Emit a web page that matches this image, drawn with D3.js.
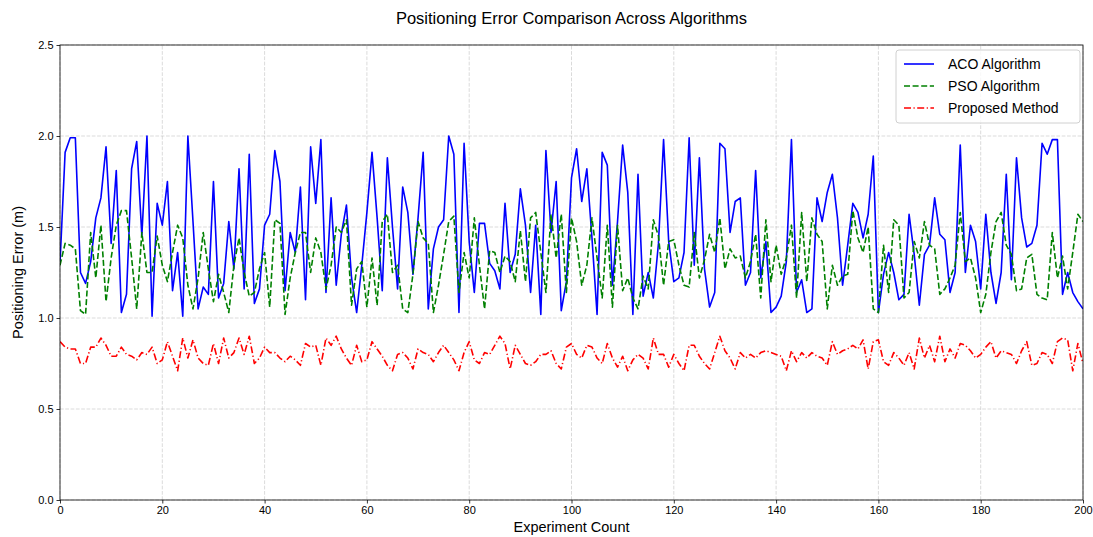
<!DOCTYPE html>
<html><head><meta charset="utf-8">
<script src="https://cdn.jsdelivr.net/npm/d3@7"></script>
<style>body{margin:0;background:#fff;font-family:"Liberation Sans",Arial,sans-serif;}</style>
</head><body>
<svg id="chart" width="1093" height="537"></svg>
<script>
const title = "Positioning Error Comparison Across Algorithms";
const xLabel = "Experiment Count";
const yLabel = "Positioning Error (m)";
const seriesNames = ["ACO Algorithm", "PSO Algorithm", "Proposed Method"];
const xTicks = [0,20,40,60,80,100,120,140,160,180,200];
const yTicks = [0.0,0.5,1.0,1.5,2.0,2.5];

const aco = [1.30,1.91,1.99,1.99,1.25,1.19,1.31,1.55,1.66,1.94,1.41,1.81,1.03,1.13,1.82,1.97,1.45,
2.00,1.01,1.63,1.51,1.75,1.15,1.36,1.01,2.00,1.53,1.05,1.17,1.13,1.75,1.11,1.19,1.53,
1.27,1.82,1.16,1.90,1.08,1.16,1.51,1.57,1.92,1.75,1.15,1.47,1.36,1.72,1.10,1.94,1.63,
1.98,1.14,1.66,1.18,1.46,1.62,1.22,1.03,1.29,1.58,1.91,1.55,1.15,1.88,1.50,1.16,1.72,
1.58,1.24,1.55,1.91,1.05,1.38,1.50,1.54,2.00,1.90,1.03,1.96,1.42,1.14,1.52,1.52,1.30,
1.26,1.16,1.63,1.25,1.35,1.71,1.51,1.14,1.51,1.02,1.92,1.47,1.75,1.04,1.20,1.77,
1.93,1.64,1.82,1.44,1.02,1.91,1.84,1.18,1.53,1.95,1.69,1.02,1.79,1.12,1.25,1.11,1.41,
1.98,1.42,1.20,1.22,1.36,1.99,1.29,1.88,1.27,1.06,1.14,1.96,1.93,1.47,1.64,1.66,1.18,
1.25,1.81,1.22,1.42,1.03,1.06,1.12,1.31,1.98,1.14,1.21,1.03,1.05,1.66,1.53,1.69,1.79,
1.55,1.18,1.40,1.63,1.58,1.44,1.57,1.89,1.03,1.24,1.36,1.25,1.10,1.13,1.57,1.35,1.07,
1.35,1.40,1.66,1.46,1.43,1.14,1.25,1.95,1.25,1.51,1.42,1.16,1.57,1.25,1.08,1.25,1.79,
1.21,1.88,1.55,1.39,1.41,1.51,1.96,1.90,1.98,1.98,1.13,1.25,1.14,1.09,1.05];

const pso = [1.29,1.41,1.40,1.38,1.04,1.02,1.47,1.22,1.51,1.09,1.33,1.51,1.59,1.59,1.33,1.05,1.47,
1.25,1.25,1.45,1.29,1.20,1.36,1.51,1.44,1.18,1.05,1.22,1.47,1.27,1.09,1.24,1.14,1.03,
1.29,1.44,1.25,1.12,1.14,1.27,1.36,1.06,1.54,1.52,1.02,1.22,1.36,1.47,1.47,1.25,1.44,
1.36,1.16,1.29,1.50,1.47,1.54,1.07,1.27,1.31,1.06,1.33,1.07,1.53,1.57,1.25,1.29,1.05,
1.03,1.24,1.53,1.44,1.41,1.03,1.18,1.35,1.53,1.56,1.14,1.36,1.22,1.55,1.29,1.05,1.37,
1.36,1.25,1.34,1.31,1.20,1.48,1.20,1.55,1.58,1.36,1.14,1.57,1.33,1.57,1.14,1.55,
1.42,1.18,1.29,1.55,1.33,1.11,1.51,1.06,1.51,1.15,1.22,1.11,1.05,1.23,1.16,1.54,1.45,
1.18,1.42,1.43,1.29,1.18,1.17,1.47,1.22,1.32,1.46,1.36,1.55,1.27,1.38,1.33,1.34,1.22,
1.31,1.46,1.11,1.54,1.20,1.40,1.24,1.33,1.51,1.11,1.58,1.20,1.55,1.46,1.42,1.05,1.29,
1.18,1.23,1.24,1.59,1.44,1.36,1.50,1.05,1.03,1.40,1.14,1.54,1.51,1.11,1.14,1.42,1.33,
1.53,1.40,1.38,1.13,1.16,1.22,1.29,1.58,1.31,1.33,1.22,1.03,1.13,1.36,1.53,1.58,1.40,
1.35,1.15,1.16,1.33,1.35,1.13,1.11,1.10,1.47,1.22,1.34,1.16,1.36,1.57,1.53];

const proposed = [0.87,0.84,0.83,0.83,0.75,0.75,0.84,0.84,0.89,0.85,0.79,0.79,0.84,0.80,0.79,0.77,0.81,
0.80,0.84,0.75,0.77,0.87,0.79,0.71,0.89,0.78,0.88,0.78,0.75,0.74,0.86,0.75,0.89,0.78,
0.81,0.89,0.80,0.90,0.75,0.78,0.84,0.81,0.81,0.78,0.76,0.79,0.77,0.74,0.86,0.84,0.85,
0.74,0.89,0.85,0.90,0.83,0.78,0.74,0.85,0.76,0.77,0.87,0.83,0.79,0.74,0.71,0.80,0.81,
0.78,0.72,0.83,0.81,0.80,0.76,0.81,0.85,0.81,0.77,0.71,0.81,0.87,0.77,0.75,0.81,0.80,
0.85,0.90,0.86,0.72,0.85,0.80,0.75,0.74,0.76,0.80,0.80,0.82,0.75,0.72,0.84,0.86,
0.80,0.78,0.85,0.84,0.78,0.75,0.86,0.78,0.73,0.79,0.71,0.77,0.80,0.78,0.72,0.89,0.80,
0.80,0.73,0.80,0.75,0.71,0.85,0.85,0.79,0.75,0.72,0.81,0.90,0.82,0.78,0.72,0.81,0.78,
0.80,0.78,0.81,0.82,0.81,0.80,0.79,0.71,0.82,0.76,0.81,0.78,0.81,0.79,0.78,0.74,0.87,
0.80,0.82,0.83,0.85,0.83,0.88,0.72,0.87,0.88,0.76,0.74,0.81,0.78,0.74,0.81,0.72,0.89,
0.78,0.85,0.76,0.90,0.76,0.83,0.78,0.86,0.85,0.82,0.78,0.80,0.84,0.87,0.78,0.82,0.81,
0.80,0.75,0.82,0.87,0.74,0.75,0.81,0.80,0.75,0.87,0.89,0.88,0.71,0.86,0.75];

const colors = ["#0000ff", "#008000", "#ff0000"];
const dashes = [null, "6,2.6", "7,2.5,1.2,2.5"];

const svg = d3.select("#chart");
const W = 1093, H = 537;
const m = {left: 60, right: 10, top: 45, bottom: 37};
const x = d3.scaleLinear().domain([0, 200]).range([m.left, W - m.right]);
const y = d3.scaleLinear().domain([0, 2.5]).range([H - m.bottom, m.top]);

// grid
const g = svg.append("g");
g.selectAll(".gx").data(xTicks).enter().append("line")
  .attr("x1", d => x(d)).attr("x2", d => x(d)).attr("y1", y(0)).attr("y2", y(2.5))
  .attr("stroke", "#b0b0b0").attr("stroke-opacity", 0.6).attr("stroke-dasharray", "3.7,1.6").attr("stroke-width", 0.8);
g.selectAll(".gy").data(yTicks).enter().append("line")
  .attr("x1", x(0)).attr("x2", x(200)).attr("y1", d => y(d)).attr("y2", d => y(d))
  .attr("stroke", "#b0b0b0").attr("stroke-opacity", 0.6).attr("stroke-dasharray", "3.7,1.6").attr("stroke-width", 0.8);

// lines
const all = [aco, pso, proposed];
const line = d3.line().x((d, i) => x(i)).y(d => y(d));
svg.append("defs").append("clipPath").attr("id", "clip").append("rect")
  .attr("x", x(0)).attr("y", y(2.5)).attr("width", x(200) - x(0)).attr("height", y(0) - y(2.5));
all.forEach((s, k) => {
  svg.append("path").datum(s).attr("d", line).attr("fill", "none")
    .attr("clip-path", "url(#clip)")
    .attr("stroke", colors[k]).attr("stroke-width", 1.6)
    .attr("stroke-dasharray", dashes[k]).attr("stroke-linejoin", "round");
});

// axes
const xAxis = d3.axisBottom(x).tickValues(xTicks).tickSize(3.5).tickPadding(3).tickFormat(d3.format("d"));
const yAxis = d3.axisLeft(y).tickValues(yTicks).tickSize(3.5).tickPadding(3).tickFormat(d3.format(".1f"));
const gx = svg.append("g").attr("transform", `translate(0,${y(0)})`).call(xAxis);
const gy = svg.append("g").attr("transform", `translate(${x(0)},0)`).call(yAxis);
[gx, gy].forEach(a => {
  a.select(".domain").remove();
  a.selectAll("text").attr("font-size", 11).attr("font-family", "Liberation Sans, Arial, sans-serif").attr("fill", "#000");
  a.selectAll("line").attr("stroke", "#000").attr("stroke-width", 0.8);
});
svg.append("rect").attr("x", x(0)).attr("y", y(2.5)).attr("width", x(200) - x(0)).attr("height", y(0) - y(2.5))
  .attr("fill", "none").attr("stroke", "#000").attr("stroke-width", 0.8);

// titles
svg.append("text").attr("x", (x(0) + x(200)) / 2).attr("y", 24).attr("text-anchor", "middle")
  .attr("font-size", 16.5).attr("fill", "#000").text(title);
svg.append("text").attr("x", (x(0) + x(200)) / 2).attr("y", 532).attr("text-anchor", "middle")
  .attr("font-size", 14.5).attr("fill", "#000").text(xLabel);
svg.append("text").attr("transform", `translate(23,${(y(0) + y(2.5)) / 2}) rotate(-90)`).attr("text-anchor", "middle")
  .attr("font-size", 14.5).attr("fill", "#000").text(yLabel);

// legend
const lg = svg.append("g").attr("transform", "translate(896,50)");
lg.append("rect").attr("width", 184).attr("height", 73).attr("rx", 3).attr("fill", "#fff").attr("fill-opacity", 0.8)
  .attr("stroke", "#d0d0d0").attr("stroke-width", 1);
seriesNames.forEach((n, k) => {
  const yy = 14 + k * 22;
  lg.append("line").attr("x1", 8).attr("x2", 38).attr("y1", yy).attr("y2", yy)
    .attr("stroke", colors[k]).attr("stroke-width", 1.6).attr("stroke-dasharray", dashes[k]);
  lg.append("text").attr("x", 52).attr("y", yy + 5).attr("font-size", 14).attr("fill", "#000").text(n);
});
</script>
</body></html>
